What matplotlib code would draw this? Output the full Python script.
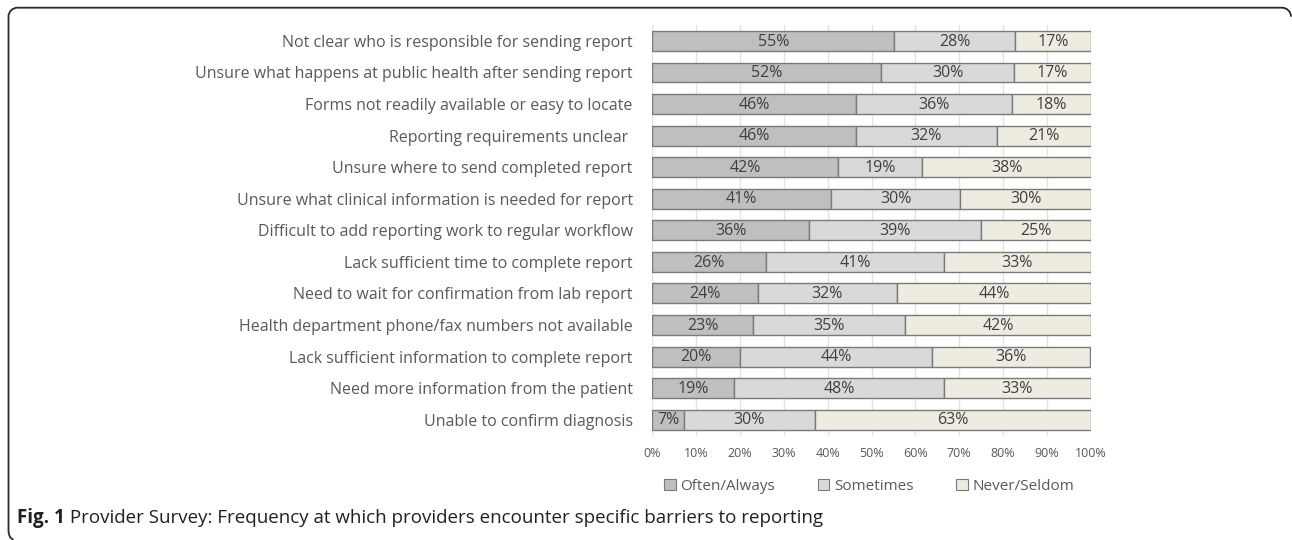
import matplotlib
matplotlib.use("Agg")
import matplotlib.pyplot as plt
from matplotlib.patches import Patch, PathPatch
from matplotlib.path import Path
from matplotlib.transforms import Affine2D
import numpy as np

categories = [
    "Not clear who is responsible for sending report",
    "Unsure what happens at public health after sending report",
    "Forms not readily available or easy to locate",
    "Reporting requirements unclear ",
    "Unsure where to send completed report",
    "Unsure what clinical information is needed for report",
    "Difficult to add reporting work to regular workflow",
    "Lack sufficient time to complete report",
    "Need to wait for confirmation from lab report",
    "Health department phone/fax numbers not available",
    "Lack sufficient information to complete report",
    "Need more information from the patient",
    "Unable to confirm diagnosis",
]
often_always = [55.2, 52.2, 46.4, 46.4, 42.3, 40.7, 35.8, 25.9, 24.0, 23.0, 19.9, 18.6, 7.3]
sometimes = [27.6, 30.4, 35.7, 32.2, 19.3, 29.6, 39.1, 40.7, 31.9, 34.7, 44.0, 48.0, 29.7]
never_seldom = [17.2, 17.4, 17.9, 21.4, 38.4, 29.7, 25.1, 33.4, 44.1, 42.3, 36.0, 33.4, 63.0]
series_names = ["Often/Always", "Sometimes", "Never/Seldom"]
colors = ["#bfbfbf", "#d9d9d9", "#eeece1"]
x_ticks = [0, 10, 20, 30, 40, 50, 60, 70, 80, 90, 100]
caption_bold = "Fig. 1"
caption_text = " Provider Survey: Frequency at which providers encounter specific barriers to reporting"

plt.rcParams["font.family"] = ["Open Sans", "DejaVu Sans"]

W, H = 1292, 540
fig = plt.figure(figsize=(W / 100, H / 100), dpi=100)

ax_left, ax_right = 652.3, 1090.7
ax_top, ax_bottom = 25.1, 435.5
ax = fig.add_axes([ax_left / W, 1 - ax_bottom / H, (ax_right - ax_left) / W, (ax_bottom - ax_top) / H])

y = np.arange(len(categories))
series = [often_always, sometimes, never_seldom]
left = np.zeros(len(categories))
for vals, col, name in zip(series, colors, series_names):
    vals = np.array(vals)
    ax.barh(y, vals, left=left, height=0.63, color=col, edgecolor="#7a7a7a",
            linewidth=1.0, label=name, zorder=3)
    for yi, l, v in zip(y, left, vals):
        ax.text(l + v / 2, yi + 0.02, f"{round(v):d}%", ha="center", va="center",
                fontsize=11.5, color="#404040", zorder=4)
    left = left + vals

ax.set_xlim(0, 100)
ax.set_ylim(len(categories) - 0.5, -0.5)
ax.set_xticks(x_ticks)
ax.set_xticklabels([f"{t}%" for t in x_ticks], fontsize=9, color="#595959")
ax.set_yticks(y)
ax.set_yticklabels(categories, fontsize=11.5, color="#595959")
ax.tick_params(axis="both", length=0)
ax.tick_params(axis="y", pad=14)
ax.tick_params(axis="x", pad=8)
ax.grid(axis="x", color="#e3e3e3", linewidth=1.0, zorder=0)
for s in ax.spines.values():
    s.set_visible(False)

handles = [Patch(facecolor=c, edgecolor="#7a7a7a", linewidth=0.8) for c in colors]
leg = fig.legend(handles, series_names, loc="center", bbox_to_anchor=(869 / W, 1 - 486 / H),
                 ncol=3, frameon=False, fontsize=11, handlelength=0.75, handleheight=0.75,
                 handletextpad=0.3, columnspacing=2.8)
for t in leg.get_texts():
    t.set_color("#595959")

# caption
t1 = fig.text(17 / W, 1 - 518 / H, caption_bold, fontsize=13.5, fontweight="bold",
              color="#231f20", va="center", ha="left")
fig.canvas.draw()
bb = t1.get_window_extent()
fig.text(bb.x1 / W, 1 - 518 / H, caption_text, fontsize=13.5, color="#231f20",
         va="center", ha="left")

# frame: open path kept inside the canvas (pixel coordinates, y downward)
xl, xr, yt, r = 8.5, 1291.0, 7.7, 9.0
k = 0.5523 * r
verts = [
    (xl + 5.0, 539.6),
    (xl + 0.5, 538.5), (xl, 531.0),
    (xl, yt + r),
    (xl, yt + r - k), (xl + r - k, yt), (xl + r, yt),
    (xr - r, yt),
    (xr - r + k, yt), (xr, yt + r - k), (xr, yt + r),
]
codes = [Path.MOVETO,
         Path.CURVE3, Path.CURVE3,
         Path.LINETO,
         Path.CURVE4, Path.CURVE4, Path.CURVE4,
         Path.LINETO,
         Path.CURVE4, Path.CURVE4, Path.CURVE4]
pix_to_fig = Affine2D().scale(1 / W, -1 / H).translate(0, 1) + fig.transFigure
frame = PathPatch(Path(verts, codes), transform=pix_to_fig, fill=False,
                  edgecolor="#2b2b2b", linewidth=1.3, capstyle="butt")
frame.set_in_layout(False)
fig.patches.append(frame)

fig.savefig("out.png", dpi=100, bbox_inches=None)
